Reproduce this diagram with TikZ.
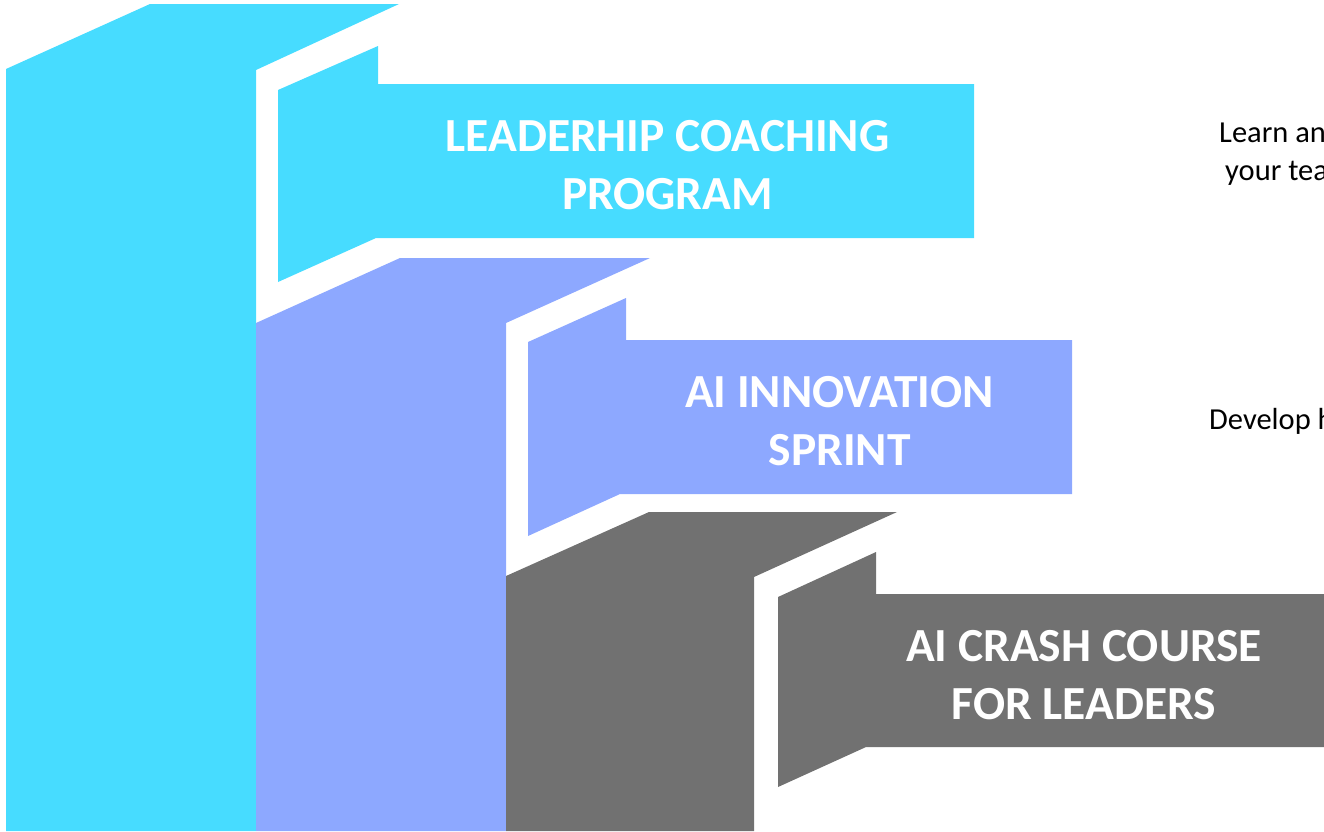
\documentclass[tikz,border=0pt]{standalone}
\usepackage{fontspec}
\setmainfont{Carlito}
\definecolor{cyanA}{HTML}{47DCFF}
\definecolor{blueB}{HTML}{8DA8FF}
\definecolor{grayC}{HTML}{717171}
\begin{document}
\begin{tikzpicture}[x=1pt,y=-1pt,
  bigtxt/.style={text=white,font=\fontsize{47.5}{56}\selectfont\bfseries,anchor=base,inner sep=0pt},
  sidetxt/.style={text=black,font=\fontsize{30.5}{36}\selectfont,anchor=base west,inner sep=0pt}]
\useasboundingbox (0,0) rectangle (1324,831);
\clip (0,0) rectangle (1324,831);
% column 1 and banner 1
\fill[cyanA] (6,69) -- (150,4) -- (399,4) -- (256,70) -- (256,831) -- (6,831) -- cycle;
\fill[cyanA] (278,90) -- (378,46) -- (378,84) -- (974,84) -- (974,238) -- (376,238) -- (278,282) -- cycle;
% column 2 and banner 2
\fill[blueB] (256,323) -- (400,258) -- (650,258) -- (506,323) -- (506,831) -- (256,831) -- cycle;
\fill[blueB] (528,342) -- (626,298) -- (626,340) -- (1072,340) -- (1072,494) -- (620,494) -- (528,536) -- cycle;
% column 3 and banner 3
\fill[grayC] (506,576) -- (649,512) -- (897,512) -- (754,577) -- (754,831) -- (506,831) -- cycle;
\fill[grayC] (778,597) -- (876,552) -- (876,594) -- (1324,594) -- (1324,747) -- (866,747) -- (778,787) -- cycle;
% banner texts
\node[bigtxt] (b1a) at (667.5,151) {LEADERHIP COACHING};
\node[bigtxt] (b1b) at (667.5,209) {PROGRAM};
\node[bigtxt] (b2a) at (839.5,407) {AI INNOVATION};
\node[bigtxt] (b2b) at (839.5,465) {SPRINT};
\node[bigtxt] (b3a) at (1084,661) {AI CRASH COURSE};
\node[bigtxt] (b3b) at (1084,719) {FOR LEADERS};
% side texts (cut by the right edge, as in the reference)
\node[sidetxt] (s1a) at (1219,142) {Learn an};
\node[sidetxt] (s1b) at (1225,180) {your tea};
\node[sidetxt] (s2a) at (1209,429) {Develop h};
\end{tikzpicture}
\end{document}
